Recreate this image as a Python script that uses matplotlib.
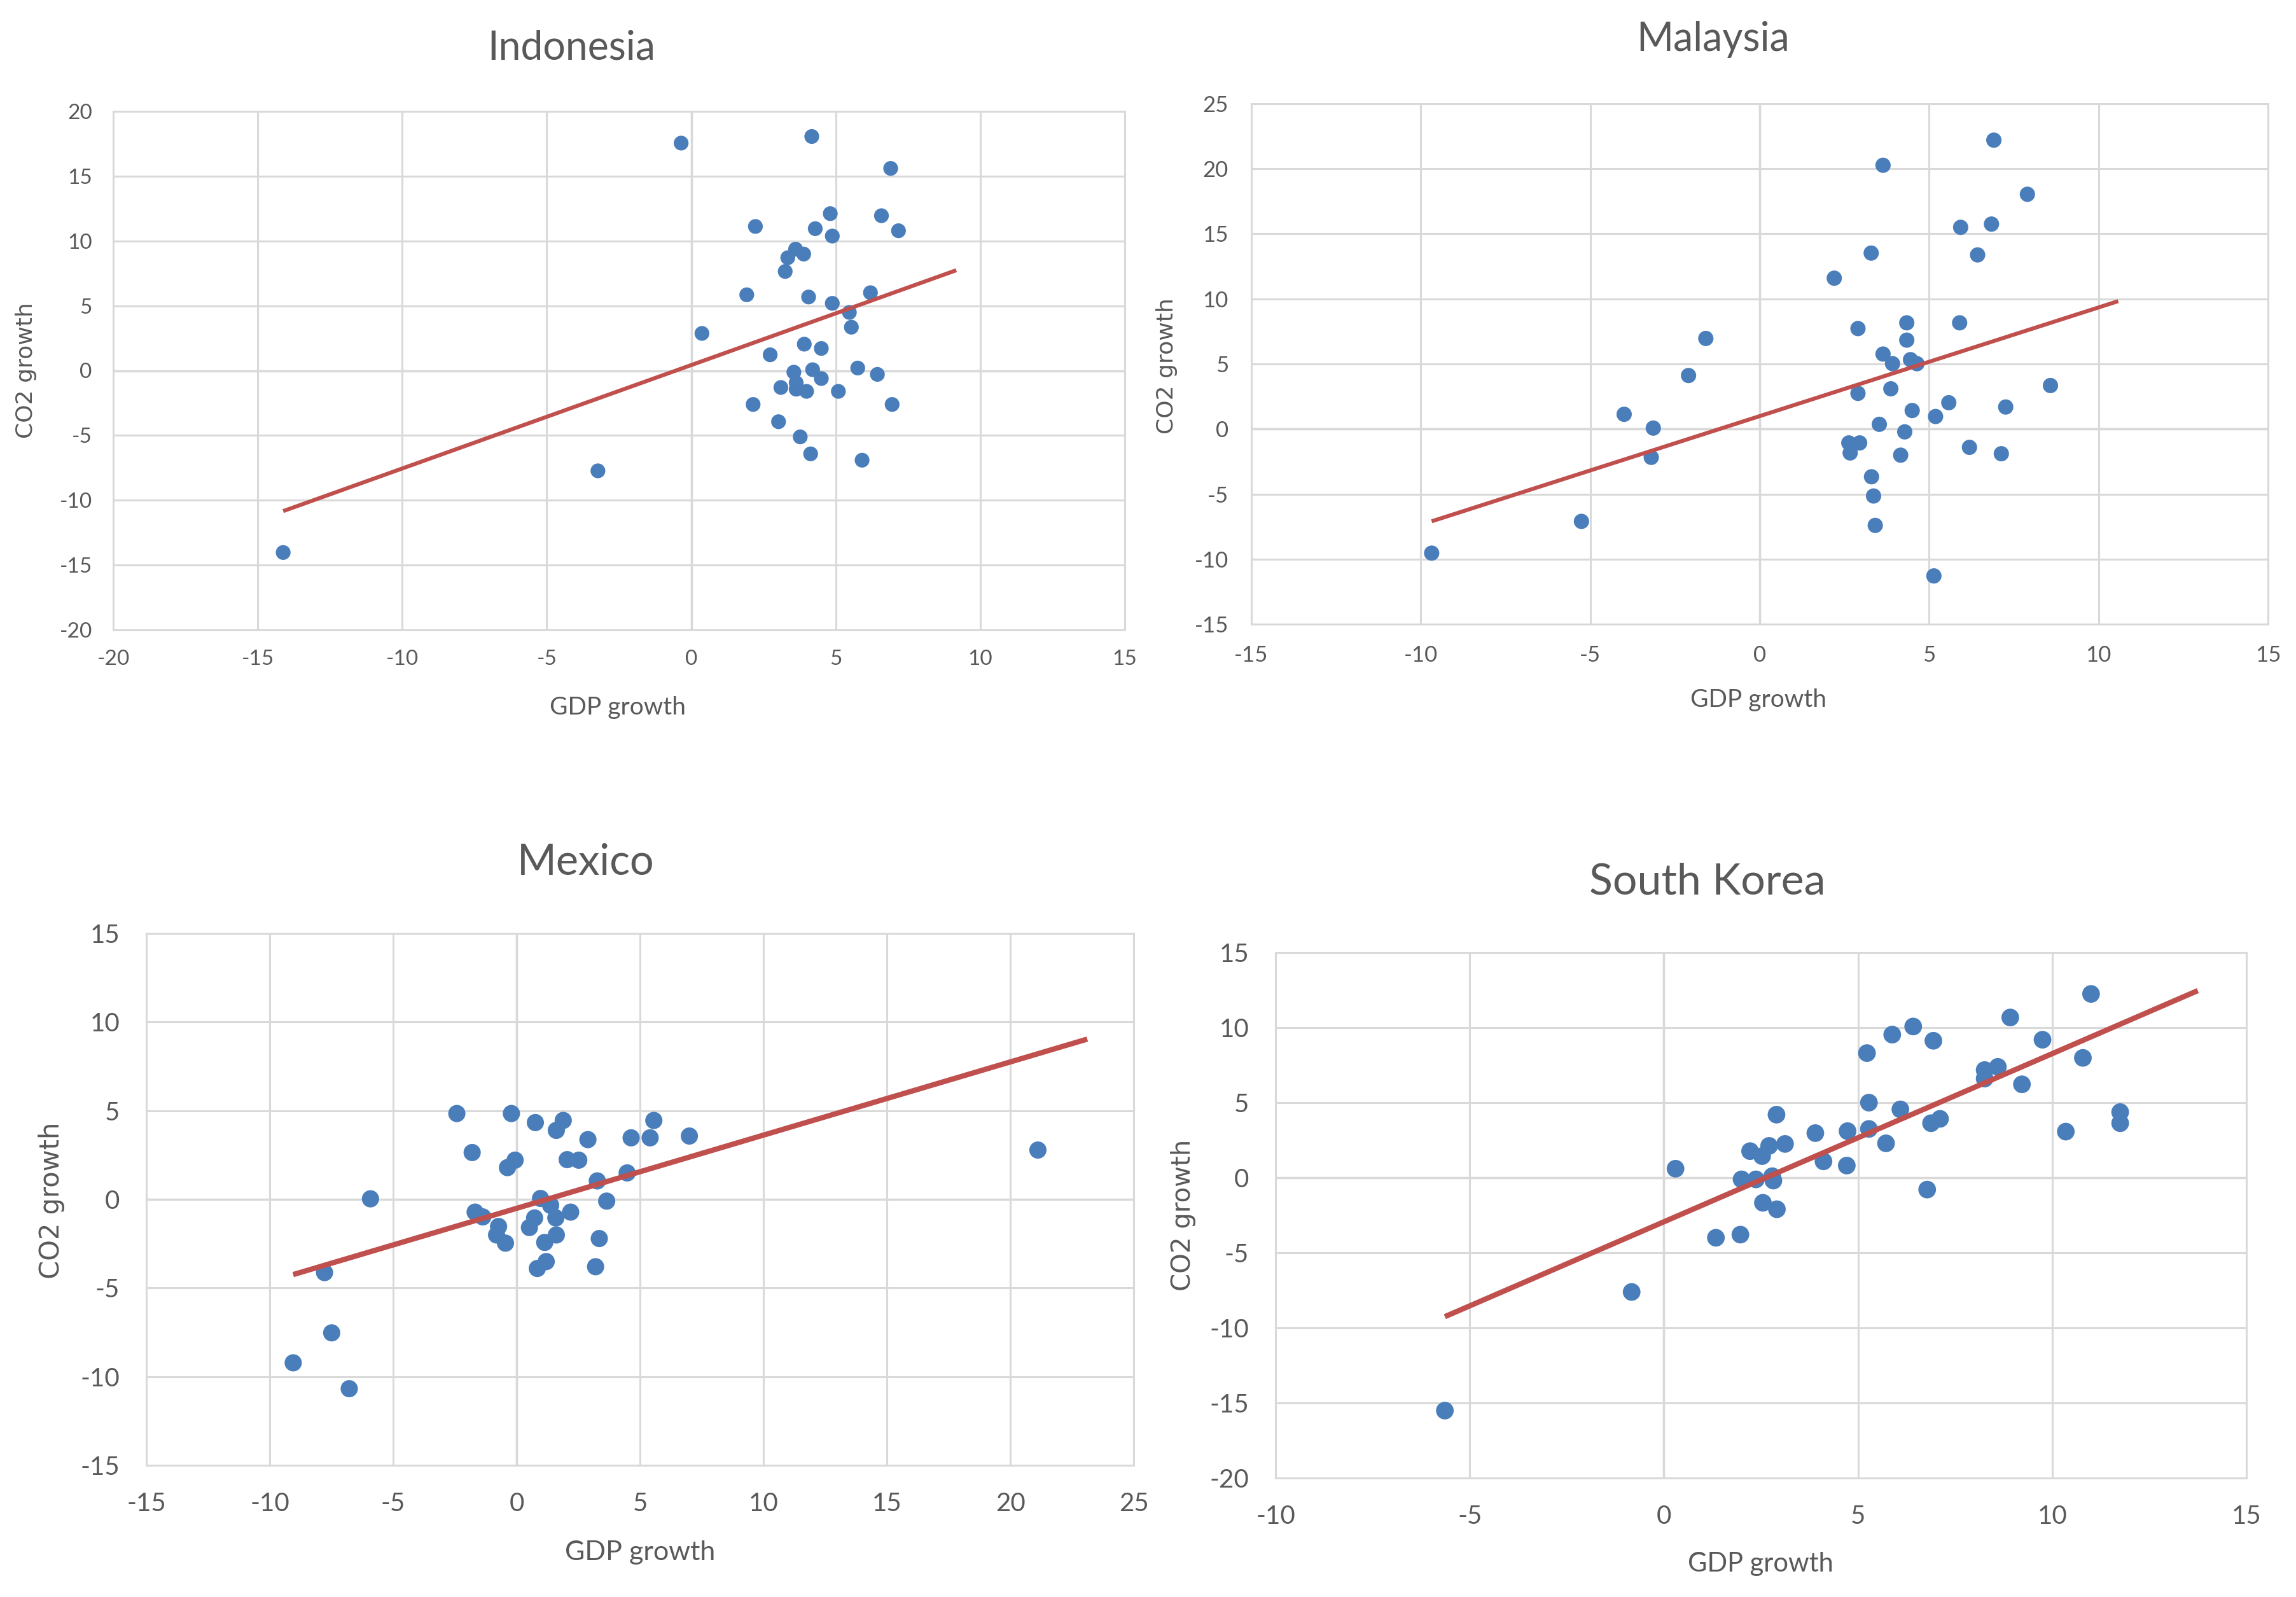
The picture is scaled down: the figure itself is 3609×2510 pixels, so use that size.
import matplotlib
matplotlib.use("Agg")
import matplotlib.pyplot as plt
import numpy as np

plt.rcParams["axes.unicode_minus"] = False

# GDP growth vs CO2 growth
indonesia_gdp = [-0.35, 4.17, 6.90, 4.81, 6.58, 2.22, 4.29, 4.88, 7.17, 3.61, 3.89, 3.34, 3.25,
                 1.92, 4.06, 4.88, 6.20, 5.47, 5.54, 0.37, 3.91, 4.50, 2.73, 3.55, 4.20, 5.76,
                 6.44, 4.50, 3.10, 3.63, 3.63, 3.99, 5.09, 2.14, 6.95, 3.02, 3.77, 4.13, 5.91,
                 -3.23, -14.12]
indonesia_co2 = [17.55, 18.06, 15.6, 12.11, 11.95, 11.12, 10.95, 10.38, 10.79, 9.37, 8.99, 8.71, 7.65,
                 5.85, 5.68, 5.19, 6.01, 4.49, 3.35, 2.87, 2.04, 1.71, 1.22, -0.12, 0.07, 0.20,
                 -0.29, -0.61, -1.30, -0.94, -1.43, -1.60, -1.60, -2.61, -2.61, -3.94, -5.11, -6.42, -6.91,
                 -7.73, -14.03]

malaysia_gdp = [6.91, 3.64, 7.90, 5.93, 6.84, 3.29, 6.43, 2.20, 4.34, 5.90, 2.90, 4.34, -1.59,
                3.64, 3.92, 4.45, 4.64, -2.10, 3.87, 8.58, 2.90, 5.58, 7.26, 4.50, 5.19, -4.00,
                -3.14, 3.53, 4.28, 2.63, 2.95, 2.67, -3.20, 4.16, 6.19, 7.13, 3.30, 3.36, 3.41,
                -5.26, -9.68, 5.14]
malaysia_co2 = [22.2, 20.27, 18.04, 15.5, 15.75, 13.52, 13.38, 11.59, 8.16, 8.16, 7.72, 6.83, 6.96,
                5.76, 5.02, 5.33, 5.02, 4.11, 3.09, 3.34, 2.74, 2.02, 1.69, 1.42, 0.96, 1.13,
                0.07, 0.36, -0.22, -1.07, -1.07, -1.84, -2.18, -2.01, -1.41, -1.90, -3.67, -5.15, -7.41,
                -7.10, -9.54, -11.29]

mexico_gdp = [-2.42, -0.21, 0.76, 1.89, 1.61, 5.56, 2.89, 4.64, 5.41, 7.00, 21.12, -1.80, -0.06,
              -0.37, 2.05, 2.52, 3.27, 4.48, 0.97, 3.65, -5.92, -1.68, -1.37, 1.38, 2.19, 0.73,
              0.52, 1.59, -0.73, -0.81, -0.45, 1.61, 1.14, 3.35, 1.20, 0.84, 3.20, -7.78, -7.49,
              -9.05, -6.78]
mexico_co2 = [4.84, 4.84, 4.33, 4.45, 3.89, 4.45, 3.37, 3.47, 3.47, 3.57, 2.78, 2.64, 2.21,
              1.79, 2.24, 2.21, 1.04, 1.49, 0.05, -0.10, 0.03, -0.72, -0.99, -0.34, -0.72, -1.05,
              -1.59, -1.05, -1.53, -2.01, -2.47, -2.01, -2.43, -2.21, -3.51, -3.90, -3.80, -4.13, -7.53,
              -9.22, -10.68]

korea_gdp = [11.00, 8.92, 6.42, 5.88, 6.94, 9.75, 5.23, 10.79, 8.26, 8.60, 8.26, 9.22, 5.28,
             6.09, 2.90, 11.75, 11.75, 6.88, 7.11, 10.35, 3.90, 4.73, 5.28, 5.72, 3.12, 2.71,
             2.22, 2.53, 4.11, 4.71, 0.30, 2.00, 2.37, 2.79, 2.82, 6.78, 2.55, 2.91, 1.34,
             1.97, -0.83, -5.64]
korea_co2 = [12.24, 10.67, 10.07, 9.53, 9.12, 9.19, 8.30, 7.98, 7.17, 7.38, 6.60, 6.22, 5.00,
             4.55, 4.20, 4.37, 3.63, 3.63, 3.92, 3.07, 2.97, 3.10, 3.25, 2.29, 2.25, 2.12,
             1.77, 1.44, 1.09, 0.81, 0.60, -0.11, -0.11, 0.10, -0.19, -0.79, -1.67, -2.10, -4.00,
             -3.79, -7.61, -15.51]

W, H = 3609, 2510
fig = plt.figure(figsize=(W / 100, H / 100), dpi=100)
fig.patch.set_facecolor("white")

BLUE = "#4A7EBB"
RED = "#C0504D"
GRAY_TXT = "#595959"
GRID = "#D9D9D9"
ZERO = "#BFBFBF"
FONT = "Lato"


def panel(box, gdp, co2, xlim, ylim, title, title_xy, title_fs, xlab_xy, ylab_xy,
          tick_fs, lab_fs, ylab_fs, msize, lw, xpad, ypad):
    left, top, right, bottom = box
    ax = fig.add_axes([left / W, 1 - bottom / H, (right - left) / W, (bottom - top) / H])
    ax.set_xlim(*xlim)
    ax.set_ylim(*ylim)
    ax.set_xticks(np.arange(xlim[0], xlim[1] + 1, 5))
    ax.set_yticks(np.arange(ylim[0], ylim[1] + 1, 5))
    ax.grid(True, color=GRID, linewidth=2.2, zorder=0)
    ax.axhline(0, color=ZERO, linewidth=2.4, zorder=1)
    ax.axvline(0, color=ZERO, linewidth=2.4, zorder=1)
    for s in ax.spines.values():
        s.set_color(GRID)
        s.set_linewidth(2.2)
    ax.tick_params(length=0, labelsize=tick_fs, labelcolor=GRAY_TXT)
    ax.tick_params(axis="x", pad=xpad)
    ax.tick_params(axis="y", pad=ypad)
    for lbl in ax.get_xticklabels() + ax.get_yticklabels():
        lbl.set_family(FONT)

    ax.scatter(gdp, co2, s=msize, color=BLUE, edgecolors="none", zorder=3)

    # linear trendline, extended 2 units forward like Excel's forecast
    k, b = np.polyfit(gdp, co2, 1)
    tx = np.array([min(gdp), max(gdp) + 2])
    ax.plot(tx, k * tx + b, color=RED, linewidth=lw, zorder=4, solid_capstyle="butt")

    fig.text(title_xy[0] / W, 1 - title_xy[1] / H, title, ha="center", va="center",
             fontsize=title_fs, color=GRAY_TXT, family=FONT)
    fig.text(xlab_xy[0] / W, 1 - xlab_xy[1] / H, "GDP growth", ha="center", va="center",
             fontsize=lab_fs, color=GRAY_TXT, family=FONT)
    fig.text(ylab_xy[0] / W, 1 - ylab_xy[1] / H, "CO2 growth", ha="center", va="center",
             rotation=90, fontsize=ylab_fs, color=GRAY_TXT, family="DejaVu Sans")
    return ax


panel((178, 175, 1768, 990), indonesia_gdp, indonesia_co2, (-20, 15), (-20, 20),
      "Indonesia", (898, 76), 45, (971, 1112), (41, 582), 24, 28, 26, 280, 4.5, 22, 24)
panel((1967, 163, 3565, 981), malaysia_gdp, malaysia_co2, (-15, 15), (-15, 25),
      "Malaysia", (2693, 62), 45, (2764, 1100), (1834, 575), 25, 28, 26, 300, 4.5, 24, 26)
panel((230, 1467, 1782, 2303), mexico_gdp, mexico_co2, (-15, 25), (-15, 15),
      "Mexico", (921, 1356), 48, (1006, 2440), (81, 1887), 29, 31, 30, 380, 6, 30, 30)
panel((2005, 1497, 3531, 2323), korea_gdp, korea_co2, (-10, 15), (-20, 15),
      "South Korea", (2684, 1386), 49, (2767, 2458), (1860, 1910), 29, 30, 29, 400, 6, 30, 30)

fig.savefig("out.png", dpi=100, facecolor="white")
